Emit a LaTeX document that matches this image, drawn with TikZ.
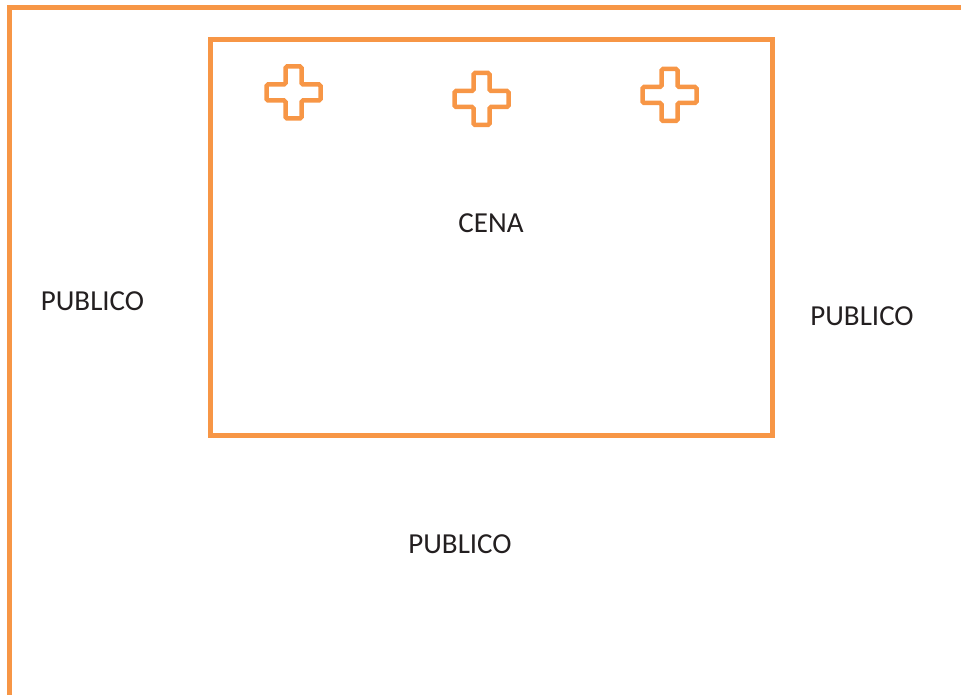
\documentclass[tikz,border=0pt]{standalone}
\usepackage{fontspec}
\setmainfont{Carlito}
\definecolor{accent}{HTML}{F79646}
\definecolor{ink}{HTML}{231F20}
\tikzset{
  frame/.style={draw=accent, line width=5pt},
  crossmark/.style={draw=accent, line width=4.5pt, rounded corners=1.5pt},
  label/.style={inner sep=0pt, text=ink, font=\fontsize{29}{34}\selectfont},
  pics/plus/.style={code={
    \draw[crossmark] (-8,-26) -- (8,-26) -- (8,-8) -- (27,-8) -- (27,8) -- (8,8)
      -- (8,26) -- (-8,26) -- (-8,8) -- (-27,8) -- (-27,-8) -- (-8,-8) -- cycle;
  }}
}
\begin{document}
\begin{tikzpicture}[x=1pt,y=-1pt]
\useasboundingbox (0,0) rectangle (961,695);
% outer hall border (top and left)
\draw[frame] (961,8) -- (9,8) -- (9,697);
% stage
\draw[frame] (210.5,40) rectangle (772.5,435.5);
% crosses
\pic at (293.5,92.5) {plus};
\pic at (481.5,99) {plus};
\pic at (669.5,95) {plus};
% labels
\node[label] (cena) at (491,223.5) {CENA};
\node[label] (publeft) at (92.5,301) {PUBLICO};
\node[label] (pubright) at (862,316.5) {PUBLICO};
\node[label] (pubbottom) at (460,544.5) {PUBLICO};
\end{tikzpicture}
\end{document}
